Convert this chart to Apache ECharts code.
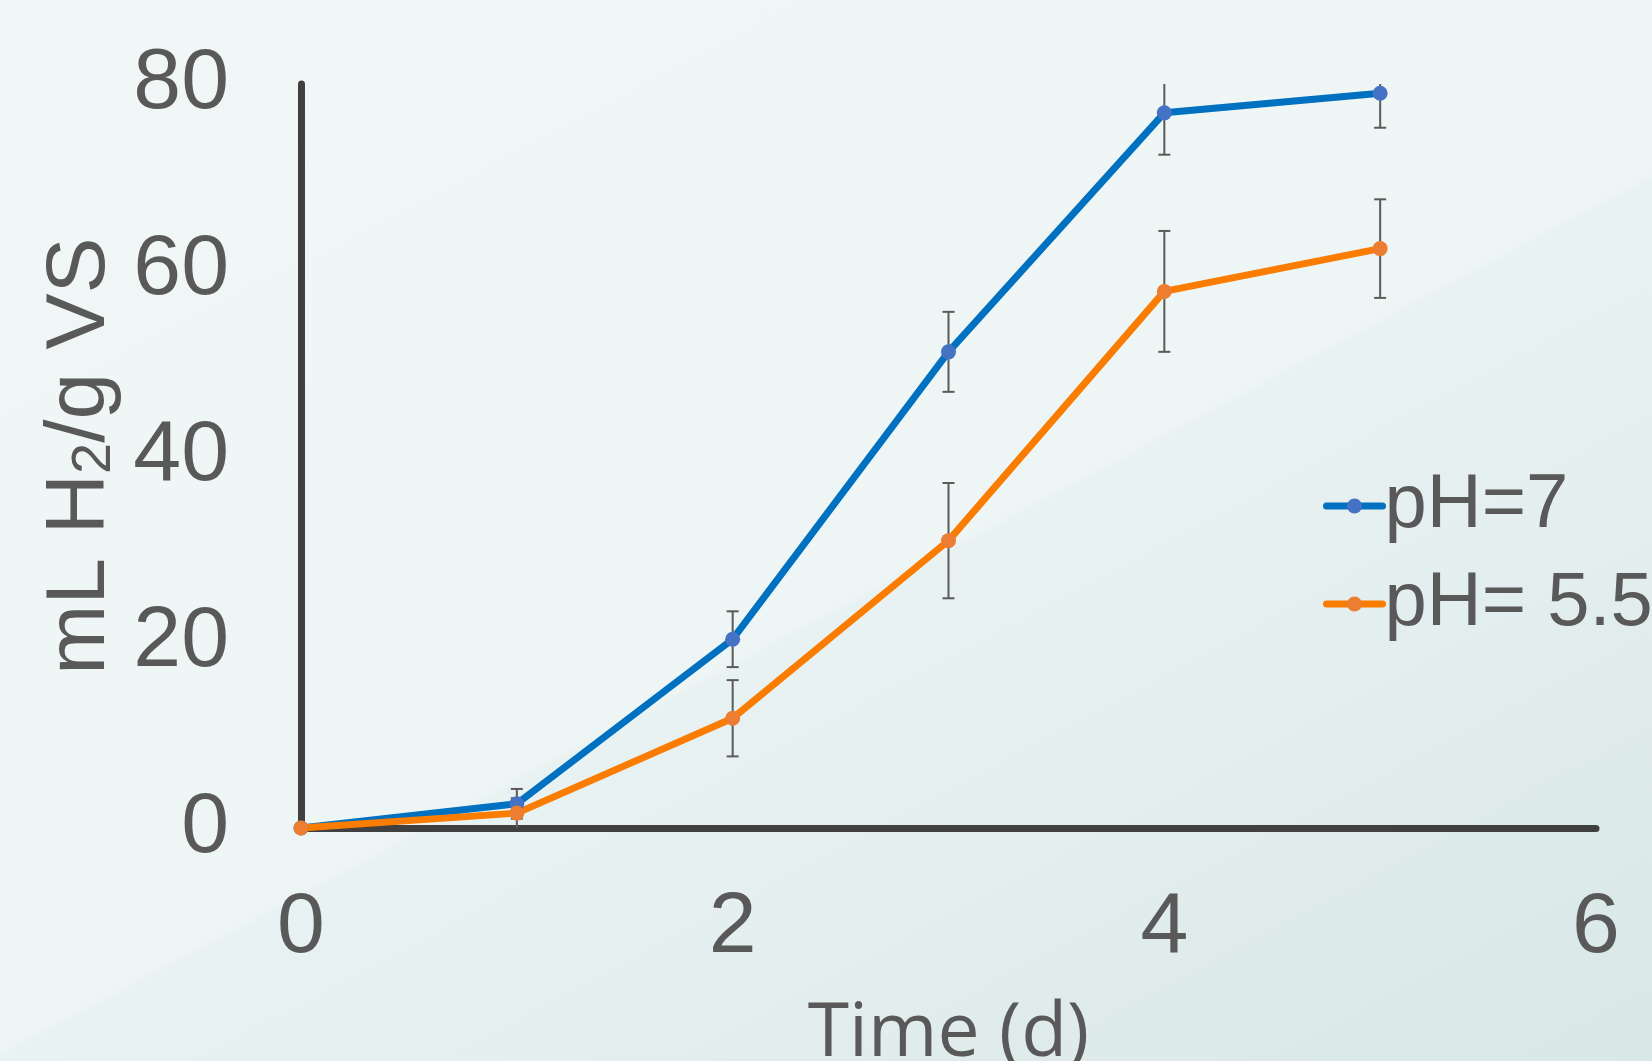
<!DOCTYPE html>
<html><head><meta charset="utf-8">
<script src="https://cdn.jsdelivr.net/npm/echarts@6/dist/echarts.min.js"></script>
<style>
html,body{margin:0;padding:0;width:1652px;height:1061px;overflow:hidden}
#c{width:1652px;height:1061px;background:linear-gradient(152deg,#F1F7F7 0%,#EEF5F5 54%,#E9F2F2 54.6%,#D9E7E7 100%)}
</style></head><body><div id="c"></div>
<script>
const days = [0, 1, 2, 3, 4, 5];
const ph7 = [0, 2.6, 20.3, 51.2, 76.9, 79.0];
const ph7Err = [0, 1.6, 3.0, 4.3, 4.5, 3.7];
const ph55 = [0, 1.6, 11.8, 30.9, 57.7, 62.3];
const ph55Err = [0, 1.6, 4.1, 6.2, 6.5, 5.3];
const seriesNames = ['pH=7', 'pH= 5.5'];
const xTicks = [0, 2, 4, 6];
const yTicks = [0, 20, 40, 60, 80];

const X_MIN = xTicks[0], X_MAX = xTicks[xTicks.length - 1], X_INT = xTicks[1] - xTicks[0];
const Y_MIN = yTicks[0], Y_MAX = yTicks[yTicks.length - 1], Y_INT = yTicks[1] - yTicks[0];
const FONT = '"Liberation Sans", Arial, sans-serif';
const FONT2 = '"Open Sans", "Noto Sans", sans-serif';
const TXT = '#595959';

function errSeries(name, vals, errs) {
  return {
    type: 'custom', name: name + ' err', z: 1, silent: true,
    data: days.map((d, i) => [d, vals[i], errs[i]]),
    encode: { x: 0, y: 1 },
    renderItem: function (params, api) {
      const x = api.value(0), v = api.value(1), e = api.value(2);
      if (!e) return null;
      const hiRaw = v + e, loRaw = v - e;
      const hi = Math.min(hiRaw, Y_MAX), lo = Math.max(loRaw, Y_MIN);
      const pHi = api.coord([x, hi]), pLo = api.coord([x, lo]);
      const cw = 6;
      const style = { stroke: '#5A5A5A', lineWidth: 2 };
      const ch = [{ type: 'line', shape: { x1: pHi[0], y1: pHi[1], x2: pLo[0], y2: pLo[1] }, style: style }];
      if (hiRaw <= Y_MAX) ch.push({ type: 'line', shape: { x1: pHi[0] - cw, y1: pHi[1], x2: pHi[0] + cw, y2: pHi[1] }, style: style });
      if (loRaw > Y_MIN) ch.push({ type: 'line', shape: { x1: pLo[0] - cw, y1: pLo[1], x2: pLo[0] + cw, y2: pLo[1] }, style: style });
      return { type: 'group', children: ch };
    }
  };
}

function lineSeries(name, vals, lineColor, dotColor) {
  return {
    type: 'line', name: name, z: 3,
    data: days.map((d, i) => [d, vals[i]]),
    symbol: 'circle', symbolSize: 15, showSymbol: true,
    lineStyle: { color: lineColor, width: 7 },
    itemStyle: { color: dotColor },
    emphasis: { disabled: true },
    animation: false
  };
}

const chart = echarts.init(document.getElementById('c'), null, { renderer: 'canvas' });
chart.setOption({
  backgroundColor: 'transparent',
  animation: false,
  textStyle: { fontFamily: FONT },
  grid: { left: 301, top: 84, right: 56, bottom: 233, containLabel: false, outerBoundsMode: 'none' },
  xAxis: {
    type: 'value', min: X_MIN, max: X_MAX, interval: X_INT,
    name: 'Time (d)', nameLocation: 'middle', nameGap: 169,
    nameTextStyle: { fontSize: 75, color: TXT, fontFamily: FONT2 },
    axisLine: { show: true, onZero: false, lineStyle: { color: '#404040', width: 7 } },
    axisTick: { show: false }, splitLine: { show: false },
    axisLabel: { fontSize: 86, color: TXT, margin: 57, fontFamily: FONT }
  },
  yAxis: {
    type: 'value', min: Y_MIN, max: Y_MAX, interval: Y_INT,
    name: '{m|mL H}{s|2}{m|/g VS}', nameLocation: 'middle', nameGap: 172, nameRotate: 90,
    nameTextStyle: {
      color: TXT, fontFamily: FONT,
      rich: {
        m: { fontSize: 84, lineHeight: 84, color: TXT, fontFamily: FONT, verticalAlign: 'top' },
        s: { fontSize: 56, lineHeight: 56, color: TXT, fontFamily: FONT, verticalAlign: 'bottom', padding: [40, 0, 0, 0] }
      }
    },
    axisLine: { show: true, onZero: false, lineStyle: { color: '#404040', width: 7 } },
    axisTick: { show: false }, splitLine: { show: false },
    axisLabel: { fontSize: 86, color: TXT, margin: 72, fontFamily: FONT }
  },
  legend: {
    data: seriesNames, orient: 'vertical', left: 1323, top: 466,
    padding: 0, itemWidth: 56, itemHeight: 19, itemGap: 18,
    lineStyle: { width: 7, cap: 'round' },
    textStyle: { fontSize: 76, color: TXT, lineHeight: 80, fontFamily: FONT, padding: [0, 0, 0, -3] },
    selectedMode: false
  },
  series: [
    errSeries(seriesNames[0], ph7, ph7Err),
    errSeries(seriesNames[1], ph55, ph55Err),
    lineSeries(seriesNames[0], ph7, '#0070C0', '#4472C4'),
    lineSeries(seriesNames[1], ph55, '#FA7C00', '#ED7D31')
  ]
});
</script></body></html>
